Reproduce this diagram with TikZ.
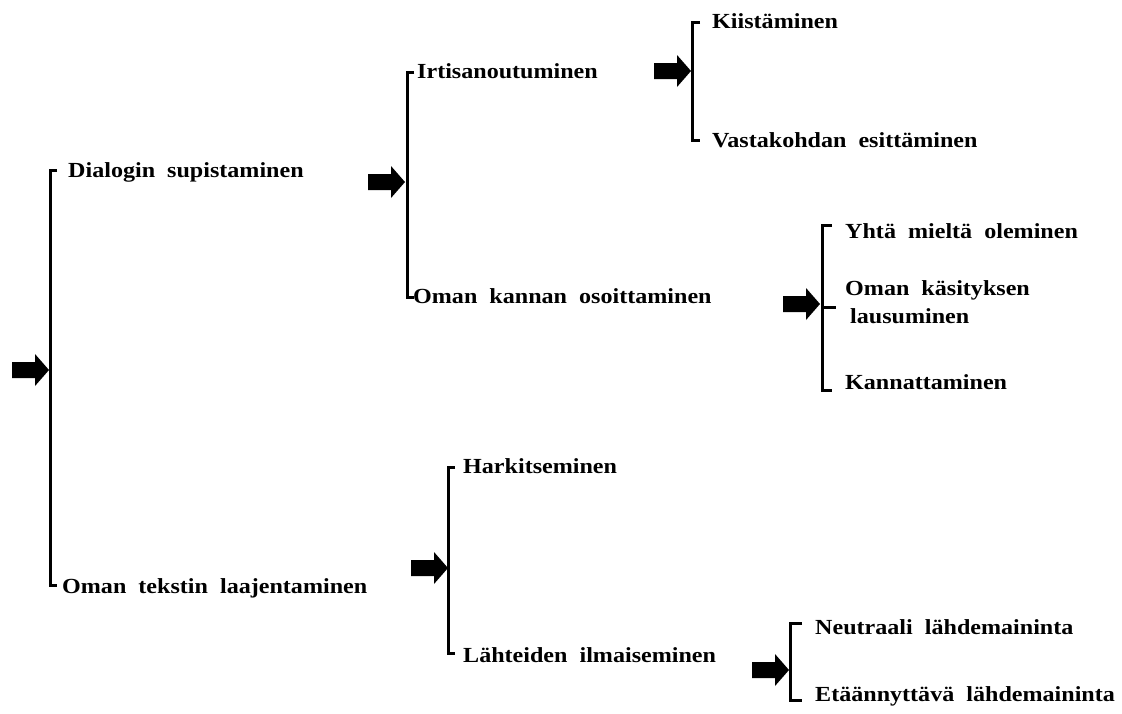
\documentclass[tikz,border=0pt]{standalone}
\usepackage{fontspec}
\setmainfont{Liberation Serif}[FakeStretch=1.12]
\tikzset{
  lbl/.style={anchor=base west, inner sep=0pt, font=\fontsize{21.5}{25}\selectfont\bfseries},
  pics/barrow/.style={code={\fill (-37,-8) -- (-14,-8) -- (-14,-16) -- (0,0) -- (-14,16) -- (-14,8) -- (-37,8) -- cycle;}},
  brk/.style={line width=3pt, line cap=butt}
}
\begin{document}
\begin{tikzpicture}[x=1pt,y=-1pt]
\useasboundingbox (0,0) rectangle (1122,713);
% level 0
\coordinate (a0) at (49,370); \pic at (a0) {barrow};
\draw[brk] (57,170) -- (50,170) -- (50,585) -- (57,585);
\node[lbl] (dia) at (68,177) {Dialogin\ \ supistaminen};
\node[lbl] (omt) at (62,593) {Oman\ \ tekstin\ \ laajentaminen};
% level 1 top
\coordinate (a1) at (405,182); \pic at (a1) {barrow};
\draw[brk] (414,72) -- (407,72) -- (407,297) -- (414,297);
\node[lbl] (irt) at (417,78) {Irtisanoutuminen};
\node[lbl] (okan) at (413,303) {Oman\ \ kannan\ \ osoittaminen};
% level 2 Irtisanoutuminen
\coordinate (a2) at (691,71); \pic at (a2) {barrow};
\draw[brk] (700,22) -- (692,22) -- (692,140) -- (700,140);
\node[lbl] (kii) at (712,28) {Kiistäminen};
\node[lbl] (vas) at (712,147) {Vastakohdan\ \ esittäminen};
% level 2 Oman kannan
\coordinate (a3) at (820,304); \pic at (a3) {barrow};
\draw[brk] (832,225) -- (822,225) -- (822,390) -- (832,390);
\draw[brk] (822,307) -- (836,307);
\node[lbl] (yht) at (845,238) {Yhtä\ \ mieltä\ \ oleminen};
\node[lbl] (oka) at (845,295) {Oman\ \ käsityksen};
\node[lbl] (lau) at (850,323) {lausuminen};
\node[lbl] (kan) at (845,389) {Kannattaminen};
% level 1 bottom
\coordinate (a4) at (448,568); \pic at (a4) {barrow};
\draw[brk] (455,467) -- (448,467) -- (448,653) -- (455,653);
\node[lbl] (har) at (463,473) {Harkitseminen};
\node[lbl] (lah) at (463,662) {Lähteiden\ \ ilmaiseminen};
% level 2 Lähteiden
\coordinate (a5) at (789,670); \pic at (a5) {barrow};
\draw[brk] (802,623) -- (790,623) -- (790,700) -- (802,700);
\node[lbl] (neu) at (815,634) {Neutraali\ \ lähdemaininta};
\node[lbl] (eta) at (815,701) {Etäännyttävä\ \ lähdemaininta};
\end{tikzpicture}
\end{document}
